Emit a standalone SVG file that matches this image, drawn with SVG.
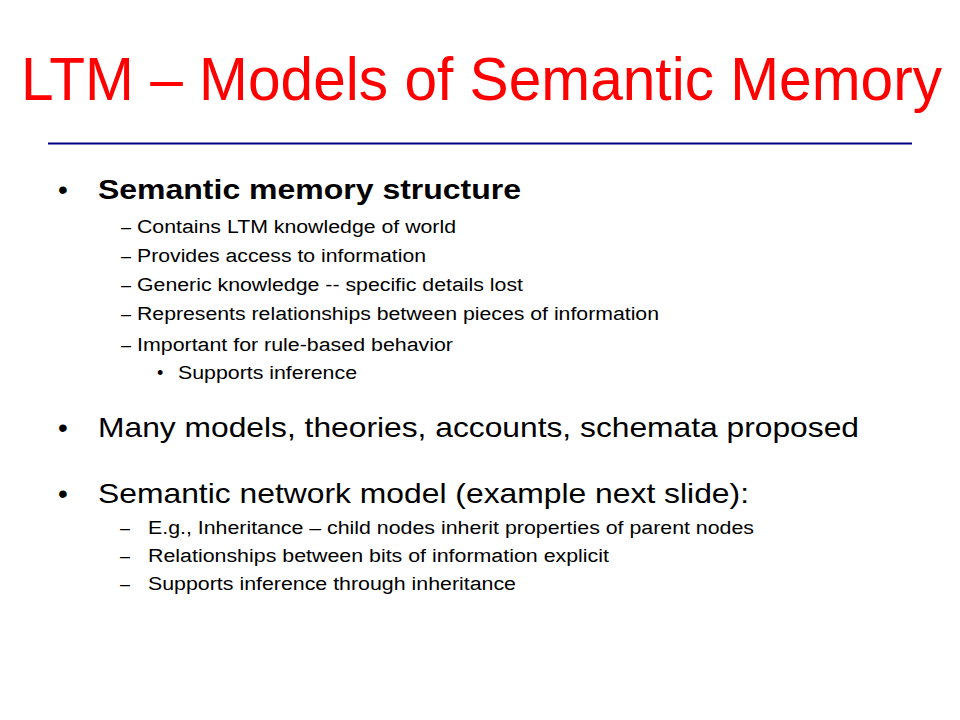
<svg xmlns="http://www.w3.org/2000/svg" width="960" height="720" viewBox="0 0 960 720">
<style>
text{font-family:"Liberation Sans",Arial,sans-serif;fill:#000}
.title{fill:#ff0000;font-size:61px}
.l1{font-size:28px}
.b{font-weight:bold}
.l2{font-size:18px}
</style>
<rect width="960" height="720" fill="#fff"/>
<g id="title">
<text class="title" x="21" y="100" textLength="921" lengthAdjust="spacingAndGlyphs">LTM – Models of Semantic Memory</text>
<line x1="48" y1="143.5" x2="912" y2="143.5" stroke="#000080" stroke-width="2"/>
</g>
<g id="bullet1">
<text class="l1" x="58" y="199">•</text>
<text class="l1 b" x="98" y="199" textLength="423" lengthAdjust="spacingAndGlyphs">Semantic memory structure</text>
<text class="l2" x="121" y="233">–</text>
<text class="l2" x="137" y="233" textLength="319" lengthAdjust="spacingAndGlyphs">Contains LTM knowledge of world</text>
<text class="l2" x="121" y="262">–</text>
<text class="l2" x="137" y="262" textLength="289" lengthAdjust="spacingAndGlyphs">Provides access to information</text>
<text class="l2" x="121" y="291">–</text>
<text class="l2" x="137" y="291" textLength="386" lengthAdjust="spacingAndGlyphs">Generic knowledge -- specific details lost</text>
<text class="l2" x="121" y="320">–</text>
<text class="l2" x="137" y="320" textLength="522" lengthAdjust="spacingAndGlyphs">Represents relationships between pieces of information</text>
<text class="l2" x="121" y="351">–</text>
<text class="l2" x="137" y="351" textLength="316" lengthAdjust="spacingAndGlyphs">Important for rule-based behavior</text>
<text class="l2" x="157" y="379">•</text>
<text class="l2" x="178" y="379" textLength="179" lengthAdjust="spacingAndGlyphs">Supports inference</text>
</g>
<g id="bullet2">
<text class="l1" x="58" y="437">•</text>
<text class="l1" x="98" y="437" textLength="761" lengthAdjust="spacingAndGlyphs">Many models, theories, accounts, schemata proposed</text>
</g>
<g id="bullet3">
<text class="l1" x="58" y="503">•</text>
<text class="l1" x="98" y="503" textLength="651" lengthAdjust="spacingAndGlyphs">Semantic network model (example next slide):</text>
<text class="l2" x="120" y="534">–</text>
<text class="l2" x="148" y="534" textLength="606" lengthAdjust="spacingAndGlyphs">E.g., Inheritance – child nodes inherit properties of parent nodes</text>
<text class="l2" x="120" y="562">–</text>
<text class="l2" x="148" y="562" textLength="461" lengthAdjust="spacingAndGlyphs">Relationships between bits of information explicit</text>
<text class="l2" x="120" y="590">–</text>
<text class="l2" x="148" y="590" textLength="368" lengthAdjust="spacingAndGlyphs">Supports inference through inheritance</text>
</g>
</svg>
